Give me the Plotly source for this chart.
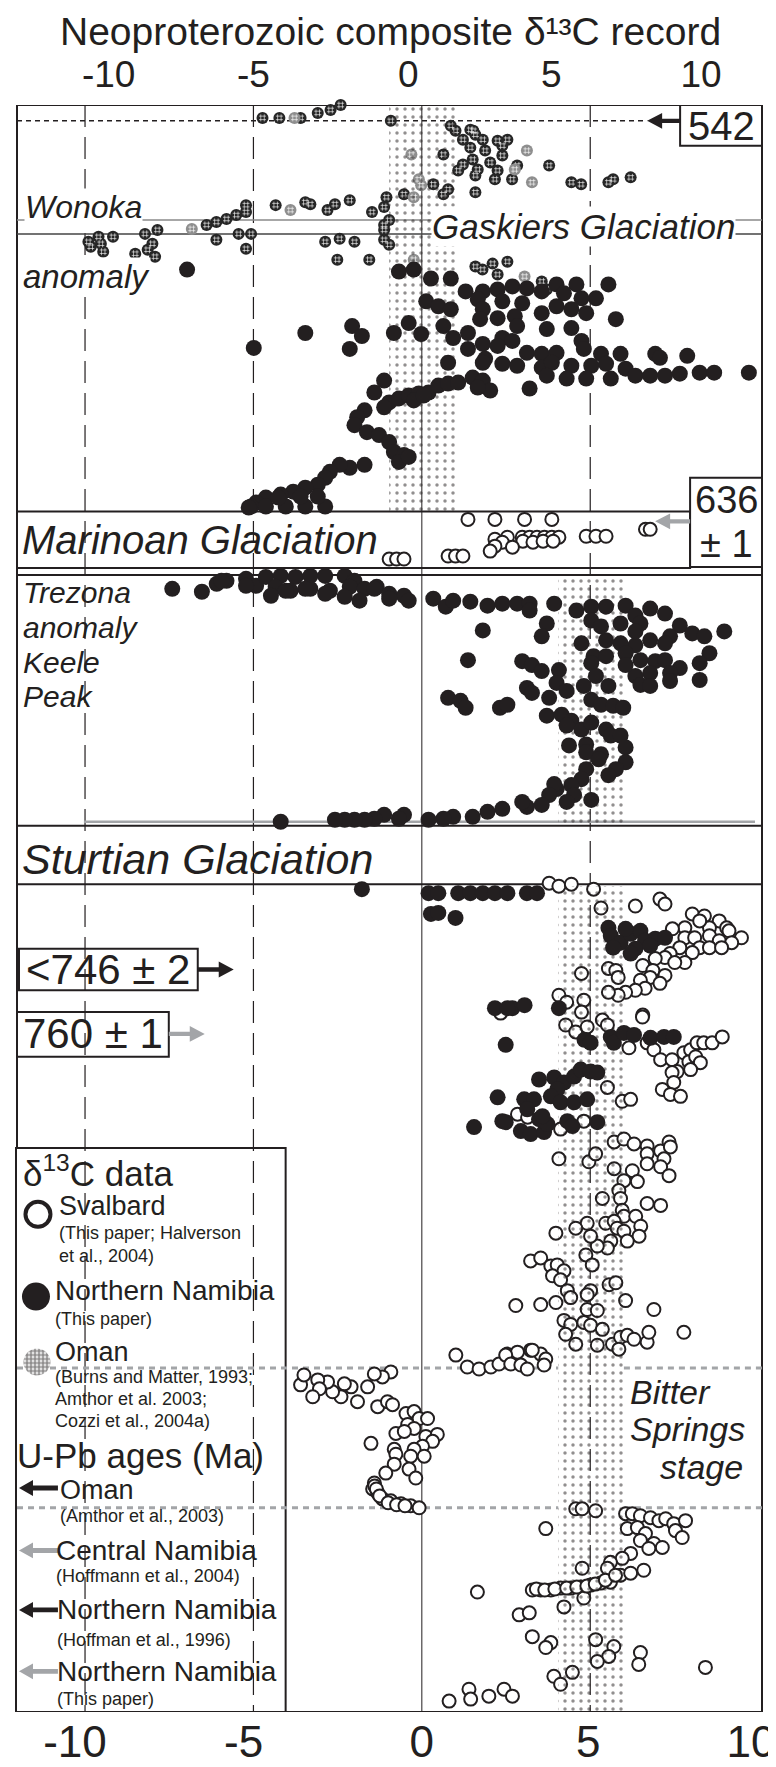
import numpy as np
import plotly.graph_objects as go

INK = '#231f20'
GREY = '#a3a5a8'
FONT = 'Liberation Sans, Arial, Helvetica, sans-serif'

# d13C (permil) against composite position (rows of the record, young at top)
oman_d13c = [-4.73, -4.23, -3.6, -3.09, -2.71, -2.41, -2.11, -1.61, -2.3, -0.92,
             0.86, 1.0, 1.44, 1.59, 1.22, 1.81, 2.25, 2.39, 2.54, 1.44,
             1.88, 2.39, 1.51, 2.03, 2.83, 3.78, 0.64, 1.08, 1.66, 2.25,
             1.59, 2.17, 2.68, 4.44, 4.73, 5.54, 5.68, 6.2, 0.34, 0.78,
             0.64, -0.53, -1.05, -1.12, -1.48, -0.97, -1.12, -1.12, -0.97, 1.22,
             1.59, -1.12, 1.53,
             -2.14, -2.58, -2.8, -3.31, -3.46, -4.34, -5.22, -5.22, -5.51, -5.8,
             -6.1, -6.39, -7.85, -8.22, -8.0, -8.14, -7.92, -8.51, -9.17, -9.6,
             -9.9, -9.83, -9.46, -9.53, -6.1, -5.44, -5.07, -5.22, -2.87, -2.44,
             -2.0, -2.51, -1.56,
             1.59, 2.1, 2.54, 3.56, 3.71, 1.8, 2.25]
oman_pos = [110, 110, 110, 105, 102, 97, 95, 95, 92, 113,
            118, 123, 122, 127, 132, 132, 133, 138, 132, 140,
            143, 148, 152, 155, 158, 158, 147, 163, 162, 163,
            168, 172, 172, 175, 177, 175, 172, 170, 177, 182,
            187, 187, 190, 200, 205, 213, 218, 233, 238, 157,
            185, 223, 123,
            193, 197, 203, 197, 195, 198, 198, 205, 208, 212,
            215, 218, 223, 227, 237, 243, 250, 247, 230, 230,
            235, 240, 245, 237, 233, 227, 227, 242, 235, 232,
            235, 253, 253,
            260, 257, 255, 275, 283, 263, 268]

oman_grey_d13c = [-3.78, -6.83, -3.9, -0.31, 3.12, 2.76, 3.27, -0.09, -0.02, -0.24, -0.24, 3.05]
oman_grey_pos = [110, 222, 203, 147, 143, 162, 175, 172, 178, 190, 253, 270]

namibia_upper_d13c = [-6.97, -0.68, -0.24, 0.27, 0.86, 1.3, 1.81, 2.25, 2.69, 3.12,
                      3.56, 4.0, 4.59, 5.54, 5.17, 4.74, 4.22, 1.66, 2.39, 2.98,
                      0.13, 0.49, 0.86, 1.81, 2.25, 2.76, 3.56, 4.0, 4.44, 4.88,
                      5.76, 1.73, 2.83, 3.71, 4.44, 0.64, -0.39, -0.83, -0.02, -2.07,
                      -1.78, -2.14, -3.46, -4.99, 0.93, 1.37, 1.81, 2.39, 2.69, 2.25,
                      1.37, 1.88, 0.78, 3.12, 3.56, 4.0, 4.74, 4.81, 5.32, 5.9,
                      6.93, 7.07, 7.88, 1.81, 2.39, 2.83, 3.56, 3.86, 4.44, 5.03,
                      5.47, 6.05, 6.34, 6.78, 7.22, 7.66, 8.25, 8.68, 9.71, 3.71,
                      4.3, 4.88, 5.61, 3.2, -1.12, -1.41, -0.97, -1.12, -0.68, -0.39,
                      -0.09, 0.2, 0.49, 0.78, 1.08, 1.51, 1.81, 2.03, 1.66, -0.24,
                      0.05, -1.7, -1.92, -2.0, -1.63, -1.27, -0.97, -0.83, -0.53, -0.68,
                      -0.39, -1.7, -2.14, -2.44, -2.73, -2.87, -3.09, -3.46, -3.82, -4.19,
                      -4.63, -4.92, -5.07, -4.63, -4.04, -3.46, -2.87, -4.26, -3.6, -3.09,
                      -5.14]
namibia_upper_pos = [263, 265, 263, 272, 272, 285, 285, 283, 280, 282,
                     285, 278, 278, 278, 292, 292, 287, 293, 295, 297,
                     295, 300, 303, 303, 312, 310, 307, 300, 303, 307,
                     313, 313, 320, 323, 322, 320, 317, 327, 328, 320,
                     330, 343, 327, 342, 332, 327, 338, 332, 335, 340,
                     343, 353, 357, 347, 348, 347, 335, 343, 348, 348,
                     348, 352, 350, 357, 358, 360, 362, 357, 360, 360,
                     358, 363, 370, 370, 370, 368, 367, 367, 367, 370,
                     373, 373, 373, 383, 375, 387, 397, 402, 393, 390,
                     388, 387, 380, 378, 377, 372, 375, 385, 382, 395,
                     390, 405, 412, 420, 427, 430, 437, 447, 450, 457,
                     452, 460, 463, 460, 467, 473, 480, 483, 487, 490,
                     493, 498, 502, 502, 502, 502, 502, 493, 492, 492,
                     503]

namibia_mid_d13c = [-7.41, -6.53, -6.09, -5.8, -5.22, -4.92, -4.63, -4.19, -3.75, -3.31,
                    -2.87, -2.29, -2.0, -4.34, -3.9, -3.31, -2.73, -2.14, -1.7, -1.34,
                    -0.97, -0.53, -5.95, -5.22, -4.48, -4.04, -3.46, -2.87, -2.29, -1.85,
                    -1.41, -0.97, -0.39, 0.34, 0.71, 0.93, 1.44, 1.95, 2.39, 2.83,
                    3.2, 3.2, 3.93, 4.59, 5.03, 5.47, 6.05, 6.78, 6.34, 7.22,
                    7.66, 8.98, 8.03, 8.39, 8.54, 8.25, 8.25, 7.37, 6.78, 7.22,
                    6.34, 5.9, 5.47, 5.03, 5.32, 5.9, 6.49, 6.34, 6.05, 6.49,
                    6.93, 7.22, 7.66, 7.37, 6.78, 6.34, 6.49, 6.78, 7.37, 6.05,
                    3.71, 3.56, 1.81, 4.74, 5.1, 5.03, 5.47, 1.37, 2.98, 3.27,
                    3.56, 4.07, 5.17, 4.0, 3.12, 3.27, 3.78, 4.3, 4.81, 5.54,
                    5.03, 5.32, 5.68, 5.98, 0.78, 1.15, 1.3, 2.32, 2.54, 3.71,
                    4.15, 4.44, 4.3, 4.74, 5.03, 5.47, 5.61, 5.9, 6.05, 4.37,
                    4.88, 4.88, 5.32, 5.25, 6.05, 5.76, 5.54, 4.88, 4.74, 4.44,
                    4.0, 3.93, 3.78, 4.52, 5.03, 4.3, 3.56, 3.12, 2.98, 2.39,
                    1.95, 1.51, 0.93, 0.64, 0.2, -0.53, -0.68, -1.12, -1.41, -1.7,
                    -2.0, -2.29, -2.58, -4.19]
namibia_mid_pos = [585, 588, 580, 577, 575, 582, 573, 572, 573, 572,
                   572, 572, 577, 583, 587, 585, 587, 583, 585, 583,
                   590, 592, 577, 582, 592, 587, 585, 590, 593, 597,
                   585, 595, 597, 595, 603, 597, 598, 602, 600, 600,
                   600, 607, 600, 607, 603, 603, 602, 605, 612, 610,
                   622, 628, 630, 633, 650, 660, 677, 633, 637, 640,
                   642, 640, 637, 617, 623, 620, 620, 628, 650, 657,
                   658, 657, 665, 670, 670, 673, 682, 683, 678, 662,
                   620, 633, 627, 640, 653, 660, 653, 657, 658, 662,
                   668, 667, 673, 680, 685, 690, 695, 688, 683, 683,
                   697, 702, 703, 705, 695, 698, 705, 705, 702, 713,
                   712, 718, 723, 727, 720, 727, 733, 733, 745, 743,
                   742, 750, 752, 757, 760, 767, 773, 767, 777, 783,
                   787, 782, 793, 793, 798, 800, 803, 805, 800, 807,
                   810, 815, 815, 817, 818, 813, 817, 813, 817, 818,
                   818, 818, 818, 820]

namibia_lower_d13c = [-1.78, 0.2, 0.49, 1.08, 1.44, 1.81, 2.17, 2.54, 3.12, 3.42,
                      0.27, 0.49, 1.0, 5.54, 5.61, 5.9, 5.68, 6.2, 6.49, 6.63,
                      6.93, 7.22, 6.34, 6.2, 6.78, 6.05, 4.07, 2.17, 2.69, 3.05,
                      2.54, 4.83, 5.01, 5.61, 5.7, 6.0, 6.3, 6.79, 7.19, 7.48,
                      2.49, 3.48, 3.93, 4.22, 4.52, 4.72, 5.01, 5.21, 4.02, 3.83,
                      4.12, 4.52, 4.91, 2.25, 3.04, 3.33, 3.13, 2.39, 2.49, 2.94,
                      3.23, 3.63, 3.48, 3.73, 4.32, 4.47, 5.21, 1.55, 3.58]
namibia_lower_pos = [888, 892, 892, 892, 892, 892, 892, 892, 892, 892,
                     913, 912, 917, 927, 935, 942, 947, 933, 930, 940,
                     938, 937, 948, 953, 945, 928, 1008, 1008, 1008, 1005,
                     1008, 1040, 1043, 1037, 1043, 1033, 1035, 1038, 1037, 1037,
                     1045, 1080, 1078, 1083, 1077, 1070, 1072, 1073, 1090, 1097,
                     1103, 1103, 1100, 1098, 1100, 1100, 1110, 1122, 1123, 1132,
                     1135, 1133, 1120, 1125, 1122, 1127, 1123, 1128, 1117]

svalbard_cap_d13c = [1.37, 2.17, 3.05, 3.86, 6.64, 6.78, 4.88, 5.17, 5.47, 2.17,
                     2.54, 2.98, 3.2, 3.42, 3.64, 3.86, 4.07, 3.0, 3.3, 3.6,
                     3.9, 2.39, 2.17, 2.03, 2.69, -0.97, -0.75, -0.53, 0.78, 1.0,
                     1.22]
svalbard_cap_pos = [515, 515, 515, 515, 525, 525, 532, 532, 532, 535,
                    533, 533, 533, 533, 533, 533, 533, 537, 538, 537,
                    537, 538, 542, 547, 543, 555, 555, 555, 552, 552,
                    552]

svalbard_top_d13c = [3.78, 4.07, 4.44, 5.1, 5.32, 6.34, 7.07, 7.22, 8.03, 8.39,
                     8.83, 9.05, 9.49, 9.12, 8.54, 8.25, 7.81, 7.44, 7.81, 8.1,
                     8.54, 8.83, 9.2, 8.25, 8.54, 8.9, 8.03, 7.66, 7.37, 7.22,
                     7.81, 7.51, 6.93, 6.56, 6.86, 7.22, 6.78, 6.49, 7.07, 6.63,
                     6.34, 6.05, 5.83, 5.54, 5.76, 5.83, 4.74, 5.54, 4.07, 4.3,
                     4.81, 4.74, 6.56]
svalbard_top_pos = [882, 885, 883, 888, 907, 905, 898, 903, 913, 915,
                    920, 927, 937, 930, 927, 920, 927, 928, 937, 937,
                    935, 940, 942, 947, 947, 947, 952, 947, 953, 957,
                    962, 962, 958, 965, 970, 975, 977, 980, 983, 988,
                    990, 992, 995, 968, 970, 977, 973, 992, 995, 1002,
                    1000, 1012, 1015]

svalbard_mid_d13c = [2.34, 4.27, 4.57, 4.91, 5.36, 5.51, 6.55, 6.15, 6.69, 6.89,
                     7.09, 7.43, 7.78, 7.98, 8.17, 8.37, 8.62, 8.92, 7.93, 8.13,
                     8.27, 7.58, 7.98, 7.43, 7.48, 7.14, 7.38, 7.68, 5.51, 5.95,
                     6.2, 2.84, 3.14, 4.12, 4.81, 5.71, 6.0, 6.3, 6.69, 6.69,
                     7.09, 7.34, 7.38, 7.19, 6.69, 7.09, 7.34, 4.07, 4.96, 5.16,
                     5.71, 6.25, 6.0, 6.4, 5.85, 5.36, 5.9, 6.69, 7.09, 5.95,
                     6.0, 6.35, 6.5, 6.45, 4.91, 5.46, 5.71, 5.8, 6.0, 6.1,
                     5.61, 5.51, 5.21, 5.01, 4.57, 3.98, 4.87, 5.06, 3.23, 3.53,
                     3.83, 4.02, 4.22, 3.88, 4.12, 5.56, 5.76, 5.01, 4.32, 4.42,
                     4.91, 4.91, 5.21, 2.79, 3.53, 3.98, 6.05, 6.89, 4.22, 4.42,
                     4.81, 5.01, 5.36, 4.27, 4.57, 5.21, 5.66, 5.9, 6.1, 6.3,
                     6.69, 6.74, 7.78, 5.85, 1.01, 2.54, 2.84, 3.23, 3.53]
svalbard_mid_pos = [1013, 1025, 1032, 1027, 1020, 1025, 1017, 1048, 1043, 1050,
                    1060, 1060, 1053, 1050, 1043, 1043, 1043, 1037, 1062, 1057,
                    1063, 1072, 1070, 1073, 1083, 1090, 1095, 1097, 1088, 1102,
                    1100, 1115, 1118, 1130, 1122, 1143, 1140, 1145, 1147, 1155,
                    1152, 1143, 1148, 1160, 1165, 1168, 1177, 1160, 1163, 1155,
                    1170, 1172, 1182, 1183, 1192, 1200, 1200, 1205, 1207, 1212,
                    1218, 1218, 1228, 1238, 1225, 1225, 1223, 1230, 1233, 1243,
                    1243, 1250, 1248, 1238, 1230, 1235, 1257, 1267, 1263, 1260,
                    1268, 1267, 1273, 1278, 1282, 1287, 1285, 1293, 1293, 1300,
                    1297, 1312, 1313, 1308, 1307, 1305, 1303, 1312, 1323, 1327,
                    1325, 1328, 1332, 1337, 1347, 1348, 1347, 1340, 1338, 1342,
                    1345, 1335, 1335, 1352, 1358, 1357, 1355, 1353, 1357]

bitter_springs_d13c = [1.35, 1.7, 2.05, 2.29, 2.49, 2.64, 2.94, 3.13, 3.28, 3.68,
                       3.63, -0.92, -1.17, -1.41, -1.61, -2.1, -2.3, -2.4, -2.65, -2.8,
                       -3.09, -3.04, -3.24, -1.91, -1.31, -1.02, -0.87, -0.47, -0.23, -0.08,
                       0.17, -0.42, -0.23, -0.77, -0.52, 0.12, 0.46, 0.32, 0.02, -0.23,
                       -1.51, -0.82, -0.77, -0.33, 0.07, -0.82, -1.07, -0.38, -0.18, -1.41,
                       -1.46, -1.31, -1.17, -0.92, -0.62, -0.33, -0.08, -3.6, -3.5, -1.4,
                       -1.35, -1.25, -1.0, -0.75, -0.5]
bitter_springs_pos = [1370, 1372, 1370, 1367, 1358, 1367, 1368, 1372, 1353, 1362,
                      1368, 1375, 1380, 1377, 1390, 1390, 1387, 1400, 1395, 1385,
                      1383, 1392, 1400, 1405, 1410, 1405, 1408, 1417, 1415, 1422,
                      1422, 1428, 1432, 1437, 1435, 1440, 1438, 1445, 1450, 1453,
                      1447, 1453, 1458, 1460, 1460, 1468, 1477, 1473, 1482, 1487,
                      1493, 1497, 1503, 1505, 1508, 1510, 1512, 1388, 1378, 1490,
                      1493, 1500, 1507, 1509, 1510]

svalbard_base_d13c = [4.57, 4.76, 5.16, 3.68, 6.05, 6.25, 6.49, 6.79, 7.04, 7.24,
                      7.48, 7.83, 7.53, 7.73, 6.1, 6.4, 6.64, 6.49, 6.89, 7.14,
                      6.74, 6.2, 5.95, 5.6, 5.51, 5.9, 6.2, 6.59, 5.31, 5.01,
                      4.72, 4.42, 4.12, 3.83, 3.53, 3.28, 4.76, 5.6, 1.65, 4.81,
                      4.22, 2.89, 3.19, 3.28, 3.83, 3.68, 5.16, 5.7, 5.55, 5.21,
                      6.49, 6.44, 8.42, 4.47, 3.92, 4.12, 1.4, 1.45, 1.99, 2.44,
                      2.69, 0.81, 3.4, 3.65, 3.95, 4.3, 4.6, 4.9, 5.15, 5.45,
                      5.75]
svalbard_base_pos = [1513, 1513, 1515, 1533, 1518, 1518, 1520, 1522, 1525, 1523,
                     1528, 1525, 1535, 1542, 1533, 1532, 1538, 1545, 1548, 1552,
                     1553, 1558, 1563, 1567, 1573, 1580, 1578, 1575, 1588, 1590,
                     1592, 1593, 1593, 1595, 1595, 1595, 1573, 1587, 1597, 1603,
                     1612, 1620, 1618, 1642, 1648, 1653, 1645, 1652, 1662, 1667,
                     1658, 1670, 1673, 1678, 1682, 1690, 1695, 1705, 1702, 1695,
                     1702, 1707, 1594, 1595, 1594, 1593, 1592, 1591, 1589, 1585,
                     1580]

band_young = [-0.97, 1.0]     # stippled envelope, upper panel
band_old = [4.05, 6.0]        # stippled envelope, lower panels
tick_text = ['-10', '-5', '0', '5', '10']
bottom_tick_pos = [-10.3, -5.29, 0.0, 4.94, 9.77]
top_tick_pos = [-9.3, -5.0, -0.4, 3.84, 8.29]

W, H = 776, 1767
L, R, T, B = 9, 755, 97, 1718
XMIN, XMAX = -12.02, 10.10


def dx(p):
    return XMIN + (p - L) * (XMAX - XMIN) / (R - L)


def px(p):
    return (p - L) / (R - L)


fig = go.Figure()

for (x0, x1), (y0, y1) in [(band_young, (T, 507)), (band_old, (571, 822)), (band_old, (885, B))]:
    fig.add_trace(go.Scatter(x=[x0, x1, x1, x0, x0], y=[y0, y0, y1, y1, y0], xaxis='x2',
                             mode='none', fill='toself', fillcolor='rgba(0,0,0,0)',
                             fillpattern=dict(shape='.', fgcolor=INK, bgcolor='rgba(0,0,0,0)',
                                              size=8, solidity=0.15),
                             hoverinfo='skip', showlegend=False))


def dots(x, y, **marker):
    fig.add_trace(go.Scatter(x=x, y=y, mode='markers', marker=marker, cliponaxis=False,
                             hoverinfo='x', showlegend=False))


dots(oman_d13c, oman_pos, symbol='circle', size=12, color='#262626')
dots(oman_d13c, oman_pos, symbol='hash-open', size=7, color='rgba(255,255,255,0.75)',
     line=dict(width=0.8, color='rgba(255,255,255,0.75)'))
dots(oman_grey_d13c, oman_grey_pos, symbol='circle', size=12, color='#8e8e8e')
dots(oman_grey_d13c, oman_grey_pos, symbol='hash-open', size=7, color='rgba(255,255,255,0.75)',
     line=dict(width=0.8, color='rgba(255,255,255,0.75)'))

open_ring = dict(symbol='circle', size=13, color='white', line=dict(color=INK, width=2))
for xs, ys in [(svalbard_cap_d13c, svalbard_cap_pos), (svalbard_top_d13c, svalbard_top_pos),
               (svalbard_mid_d13c, svalbard_mid_pos), (bitter_springs_d13c, bitter_springs_pos),
               (svalbard_base_d13c, svalbard_base_pos)]:
    dots(xs, ys, **open_ring)

for xs, ys in [(namibia_upper_d13c, namibia_upper_pos), (namibia_mid_d13c, namibia_mid_pos),
               (namibia_lower_d13c, namibia_lower_pos)]:
    dots(xs, ys, symbol='circle', size=16, color=INK, line=dict(width=0))

# legend keys
dots([dx(30)], [1216], symbol='circle', size=25, color='white', line=dict(color=INK, width=4))
dots([dx(28)], [1299], symbol='circle', size=28, color=INK, line=dict(width=0))
t = np.linspace(0, 2 * np.pi, 48)
fig.add_trace(go.Scatter(x=dx(29 + 13.5 * np.cos(t)), y=1365 + 13.5 * np.sin(t), mode='none',
                         fill='toself', fillcolor='white',
                         fillpattern=dict(shape='.', fgcolor=INK, bgcolor='white', size=4, solidity=0.7),
                         hoverinfo='skip', showlegend=False))

shapes = []


def line(x0, y0, x1, y1, color=INK, width=1.0, dash=None):
    shapes.append(dict(type='line', xref='x', yref='y', x0=x0, y0=y0, x1=x1, y1=y1, layer='below',
                       line=dict(color=color, width=width, dash=dash)))


def box(x0, y0, x1, y1, width=2, fill='white', edge=INK):
    shapes.append(dict(type='rect', xref='paper', yref='y', x0=px(x0), y0=y0, x1=px(x1), y1=y1,
                       fillcolor=fill, line=dict(color=edge, width=width), layer='below'))


def arrow(tip, y, tail, color, head=15, half=8, shaft=2.2):
    d = 1 if tail > tip else -1
    base = tip + d * head
    pts = [(tip, y), (base, y - half), (base, y - shaft), (tail, y - shaft),
           (tail, y + shaft), (base, y + shaft), (base, y + half)]
    path = 'M ' + ' L '.join(f'{px(a):.5f},{b}' for a, b in pts) + ' Z'
    shapes.append(dict(type='path', path=path, xref='paper', yref='y', fillcolor=color,
                       line=dict(width=0), layer='above'))


for v in [-10, -5, 5]:
    line(v, T, v, B, dash='22px,10px', width=1.2)
line(0, T, 0, B, width=1)
for yy in [1371, 1512]:
    line(XMIN, yy, band_old[0], yy, color=GREY, width=3, dash='6px,5px')
    line(band_old[1], yy, XMAX, yy, color=GREY, width=3, dash='6px,5px')
line(XMIN, 113, dx(640), 113, width=1.5, dash='5px,4px')
line(XMIN, 213, XMAX, 213, color='#8a8a8a', width=1.5)
line(XMIN, 227, XMAX, 227, color='#444444', width=1.5)
line(dx(76), 820, dx(748), 820, color=GREY, width=2.5)

# white knock-out behind the stacked side labels
box(12, 574, 142, 708, width=0, edge='white')

box(L, T, R, B, fill='rgba(0,0,0,0)')
box(L, 507, 683, 564)
box(683, 473, R, 563)
box(L, 571, R, 571)
box(L, 824, R, 883)
box(673, T, R, 138)
box(11, 948, 190, 990)
box(L, 1012, 161, 1057)
box(8, 1149, 278, B)

arrow(640, 113, 673, INK)
arrow(648, 517, 683, GREY)
arrow(226, 969, 190, INK)
arrow(197, 1034, 161, GREY)
for yy, col in [(1492, INK), (1555, GREY), (1615, INK), (1677, GREY)]:
    arrow(11, yy, 50, col, head=14, half=8, shaft=2.5)

annotations = []


def label(text, x, y, size, anchor='left', italic=False, bg=None):
    if italic:
        text = f'<i>{text}</i>'
    annotations.append(dict(text=text, x=px(x), y=y, xref='paper', yref='y', xanchor=anchor,
                            yanchor='middle', showarrow=False, bgcolor=bg, borderpad=0,
                            font=dict(family=FONT, size=size, color=INK)))


annotations.append(dict(text='Neoproterozoic composite δ¹³C record', x=px(383),
                        y=(B - 23) / (B - T), xref='paper', yref='paper', xanchor='center',
                        yanchor='middle', showarrow=False,
                        font=dict(family=FONT, size=39, color=INK)))
label('Wonoka', 16, 200, 32, italic=True, bg='white')
label('anomaly', 14, 270, 33, italic=True, bg='white')
label('Gaskiers Glaciation', 424, 220, 35, italic=True, bg='white')
label('542', 714, 118, 40, anchor='center')
label('636', 719, 495, 38, anchor='center')
label('± 1', 719, 540, 38, anchor='center')
label('Marinoan Glaciation', 13, 536, 40, italic=True)
label('Trezona', 14, 589, 30, italic=True)
label('anomaly', 14, 624, 30, italic=True)
label('Keele', 14, 659, 30, italic=True)
label('Peak', 14, 694, 30, italic=True)
label('Sturtian Glaciation', 13, 858, 43, italic=True)
label('&lt;746 ± 2', 100, 969, 42, anchor='center')
label('760 ± 1', 85, 1034, 42, anchor='center')
label('Bitter', 622, 1395, 34, italic=True)
label('Springs', 622, 1433, 34, italic=True)
label('stage', 652, 1471, 34, italic=True)

label('δ<sup>13</sup>C data', 14, 1172, 35)
label('Svalbard', 50, 1208, 27)
label('(This paper; Halverson', 50, 1235, 18)
label('et al., 2004)', 50, 1258, 18)
label('Northern Namibia', 46, 1293, 28)
label('(This paper)', 46, 1322, 18)
label('Oman', 46, 1355, 27)
label('(Burns and Matter, 1993;', 46, 1380, 18)
label('Amthor et al. 2003;', 46, 1402, 18)
label('Cozzi et al., 2004a)', 46, 1424, 18)
label('U-Pb ages (Ma)', 8, 1459, 35)
label('Oman', 51, 1494, 27)
label('(Amthor et al., 2003)', 51, 1520, 18)
label('Central Namibia', 47, 1555, 28)
label('(Hoffmann et al., 2004)', 47, 1581, 18)
label('Northern Namibia', 48, 1615, 28)
label('(Hoffman et al., 1996)', 48, 1645, 18)
label('Northern Namibia', 48, 1677, 28)
label('(This paper)', 48, 1705, 18)

fig.update_layout(
    width=W, height=H,
    margin=dict(l=L, r=W - R, t=T, b=H - B, pad=0),
    paper_bgcolor='white', plot_bgcolor='white', showlegend=False,
    font=dict(family=FONT, color=INK),
    xaxis=dict(range=[XMIN, XMAX], tickmode='array', tickvals=bottom_tick_pos, ticktext=tick_text,
               ticks='', showgrid=False, zeroline=False, showline=False,
               tickfont=dict(size=44, color=INK)),
    xaxis2=dict(overlaying='x', side='top', anchor='y', range=[XMIN, XMAX], tickmode='array',
                tickvals=top_tick_pos, ticktext=tick_text, ticks='', showgrid=False,
                zeroline=False, showline=False, tickfont=dict(size=37, color=INK),
                ticklabelstandoff=10),
    yaxis=dict(range=[B, T], visible=False),
    shapes=shapes, annotations=annotations,
)

fig.write_html('out.html')
